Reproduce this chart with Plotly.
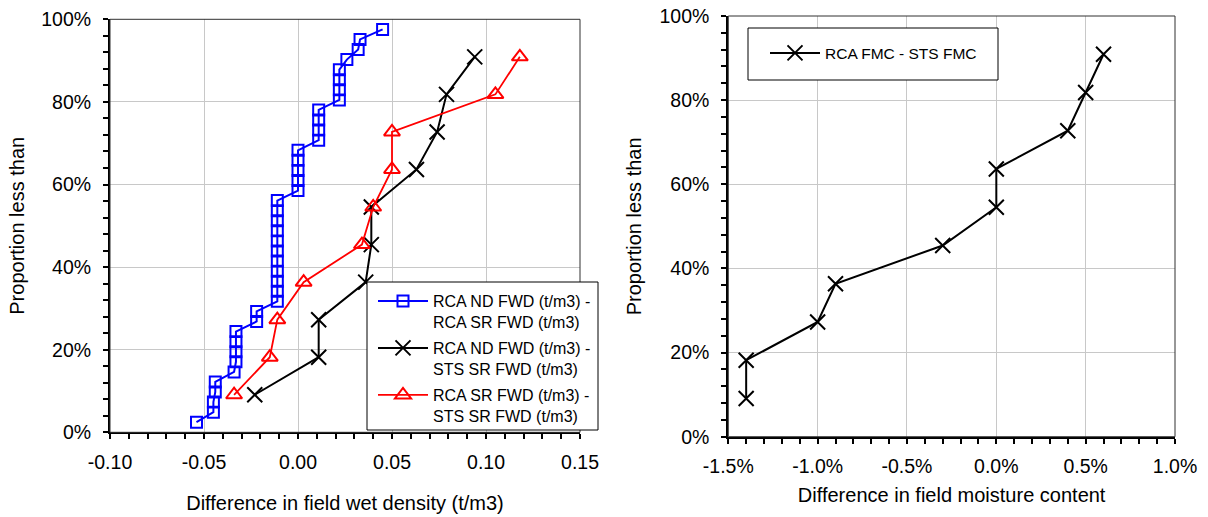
import plotly.graph_objects as go

# ---- Left panel: difference in field wet density (t/m3) ----
nd_sr_diff = [-0.054, -0.045, -0.045, -0.044, -0.044, -0.034, -0.033, -0.033, -0.033, -0.033,
              -0.022, -0.022, -0.011, -0.011, -0.011, -0.011, -0.011, -0.011, -0.011, -0.011,
              -0.011, -0.011, -0.011, 0.000, 0.000, 0.000, 0.000, 0.000, 0.011, 0.011,
              0.011, 0.011, 0.022, 0.022, 0.022, 0.022, 0.026, 0.032, 0.033, 0.045]
nd_sr_prop = [0.0244, 0.0488, 0.0732, 0.0976, 0.1220, 0.1463, 0.1707, 0.1951, 0.2195, 0.2439,
              0.2683, 0.2927, 0.3171, 0.3415, 0.3659, 0.3902, 0.4146, 0.4390, 0.4634, 0.4878,
              0.5122, 0.5366, 0.5610, 0.5854, 0.6098, 0.6341, 0.6585, 0.6829, 0.7073, 0.7317,
              0.7561, 0.7805, 0.8049, 0.8293, 0.8537, 0.8780, 0.9024, 0.9268, 0.9512, 0.9756]

nd_sts_diff = [-0.023, 0.011, 0.011, 0.036, 0.039, 0.039, 0.063, 0.074, 0.079, 0.094]
sr_sts_diff = [-0.034, -0.015, -0.011, 0.003, 0.034, 0.040, 0.050, 0.050, 0.105, 0.118]
prop_11 = [0.0909, 0.1818, 0.2727, 0.3636, 0.4545, 0.5455, 0.6364, 0.7273, 0.8182, 0.9091]

# ---- Right panel: difference in field moisture content ----
fmc_diff = [-0.014, -0.014, -0.010, -0.009, -0.003, 0.000, 0.000, 0.004, 0.005, 0.006]
fmc_prop = [0.0909, 0.1818, 0.2727, 0.3636, 0.4545, 0.5455, 0.6364, 0.7273, 0.8182, 0.9091]

# ---- Tick positions and labels ----
density_ticks = [-0.10, -0.05, 0.00, 0.05, 0.10, 0.15]
density_labels = ["-0.10", "-0.05", "0.00", "0.05", "0.10", "0.15"]
moisture_ticks = [-0.015, -0.010, -0.005, 0.000, 0.005, 0.010]
moisture_labels = ["-1.5%", "-1.0%", "-0.5%", "0.0%", "0.5%", "1.0%"]
prop_ticks = [0.0, 0.2, 0.4, 0.6, 0.8, 1.0]
prop_labels = ["0%", "20%", "40%", "60%", "80%", "100%"]

names_left = ["RCA ND FWD (t/m3) -<br>RCA SR FWD (t/m3)",
              "RCA ND FWD (t/m3) -<br>STS SR FWD (t/m3)",
              "RCA SR FWD (t/m3) -<br>STS SR FWD (t/m3)"]
name_right = "RCA FMC - STS FMC"

W, H = 1208, 517
FONT = "Liberation Sans, Arial, sans-serif"

def px_x(v):
    return v / W

def px_y(v):
    return (H - v) / H

fig = go.Figure()

fig.add_trace(go.Scatter(
    x=nd_sr_diff, y=nd_sr_prop, name=names_left[0], mode="lines+markers",
    line=dict(color="#0000FF", width=2),
    marker=dict(symbol="square-open", size=11, color="#0000FF", line=dict(width=2)),
    xaxis="x", yaxis="y", legend="legend", legendgroup="a"))
fig.add_trace(go.Scatter(
    x=nd_sts_diff, y=prop_11, name=names_left[1], mode="lines+markers",
    line=dict(color="#000000", width=2),
    marker=dict(symbol="x-thin-open", size=15, color="#000000", line=dict(width=2, color="#000000")),
    xaxis="x", yaxis="y", legend="legend", legendgroup="b"))
fig.add_trace(go.Scatter(
    x=sr_sts_diff, y=prop_11, name=names_left[2], mode="lines+markers",
    line=dict(color="#FF0000", width=1.8),
    marker=dict(symbol="triangle-up-open", size=14, color="#FF0000", line=dict(width=2)),
    xaxis="x", yaxis="y", legend="legend", legendgroup="c"))
fig.add_trace(go.Scatter(
    x=fmc_diff, y=fmc_prop, name=name_right, mode="lines+markers",
    line=dict(color="#000000", width=2),
    marker=dict(symbol="x-thin-open", size=15, color="#000000", line=dict(width=2, color="#000000")),
    xaxis="x2", yaxis="y2", legend="legend2"))

tickfont = dict(family=FONT, size=19.5, color="#000000")
titlefont = dict(family=FONT, size=20, color="#000000")

base_axis = dict(ticks="outside", ticklen=5, tickwidth=1.5, tickcolor="#000000",
                 showgrid=True, gridcolor="#c8c8c8", gridwidth=1, zeroline=False,
                 showline=True, linecolor="#000000", linewidth=2,
                 tickfont=tickfont, title_font=titlefont, tickmode="array")
minor_ticks = dict(ticks="outside", ticklen=5, tickwidth=1.5, tickcolor="#000000", showgrid=False)

y_common = dict(range=[0, 1], tickvals=prop_ticks, ticktext=prop_labels,
                ticklabelstandoff=8,
                minor=dict(dtick=0.04, tick0=0, **minor_ticks), **base_axis)

fig.update_layout(
    width=W, height=H,
    margin=dict(l=0, r=0, t=0, b=0, autoexpand=False),
    paper_bgcolor="white", plot_bgcolor="white",
    font=dict(family=FONT, color="#000000"),
    xaxis=dict(domain=[px_x(110), px_x(580)], anchor="y", range=[-0.10, 0.15],
               tickvals=density_ticks, ticktext=density_labels, ticklabelstandoff=6,
               minor=dict(dtick=0.01, tick0=0, **minor_ticks),
               title=dict(text="Difference in field wet density (t/m3)", standoff=24),
               **base_axis),
    yaxis=dict(domain=[px_y(432.3), px_y(19.3)], anchor="x",
               title=dict(text="Proportion less than", standoff=11), **y_common),
    xaxis2=dict(domain=[px_x(728.3), px_x(1175)], anchor="y2", range=[-0.015, 0.010],
                tickvals=moisture_ticks, ticktext=moisture_labels, ticklabelstandoff=6,
                minor=dict(dtick=0.001, tick0=0, **minor_ticks),
                title=dict(text="Difference in field moisture content", standoff=12),
                **base_axis),
    yaxis2=dict(domain=[px_y(436.7), px_y(16)], anchor="x2",
                title=dict(text="Proportion less than", standoff=13), **y_common),
    legend=dict(x=px_x(373), y=px_y(284), xanchor="left", yanchor="top",
                bgcolor="rgba(0,0,0,0)", borderwidth=0, itemwidth=50, valign="top",
                tracegroupgap=2.4, traceorder="grouped",
                font=dict(family=FONT, size=16, color="#000000")),
    legend2=dict(x=px_x(765), y=px_y(36.3), xanchor="left", yanchor="top",
                 bgcolor="rgba(0,0,0,0)", borderwidth=0, itemwidth=50, valign="middle",
                 font=dict(family=FONT, size=15.5, color="#000000")),
    showlegend=True,
)

# Thin frame around each plot area, and the boxes behind each legend
frame = dict(type="rect", x0=0, x1=1, y0=0, y1=1, line=dict(color="#303030", width=1),
             fillcolor="rgba(0,0,0,0)", layer="above")
fig.add_shape(xref="x domain", yref="y domain", **frame)
fig.add_shape(xref="x2 domain", yref="y2 domain", **frame)
fig.add_shape(type="rect", xref="paper", yref="paper",
              x0=px_x(367), x1=px_x(598), y0=px_y(430), y1=px_y(282),
              line=dict(color="#000000", width=1), fillcolor="white", layer="above")
fig.add_shape(type="rect", xref="paper", yref="paper",
              x0=px_x(748), x1=px_x(998), y0=px_y(80), y1=px_y(28),
              line=dict(color="#000000", width=1), fillcolor="white", layer="above")

fig.write_html("out.html")
